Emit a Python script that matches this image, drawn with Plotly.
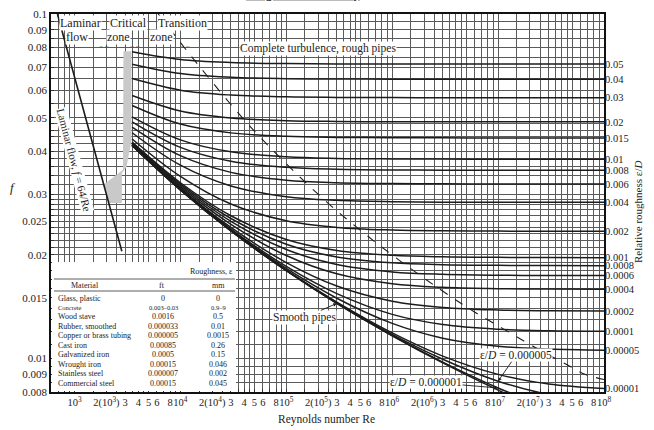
import numpy as np
import plotly.graph_objects as go

# ---------------- data ----------------
re_pts = [3500, 1e4, 3e4, 1e5, 3e5, 1e6, 3e6, 1e7, 3e7, 1e8]

f_eD_0_05 = [0.07772, 0.0738, 0.07231, 0.07178, 0.07163, 0.0716, 0.07156, 0.07155, 0.07155, 0.07155]
f_eD_0_04 = [0.07151, 0.06719, 0.06553, 0.06493, 0.06476, 0.0647, 0.06468, 0.06467, 0.06467, 0.06467]
f_eD_0_03 = [0.06496, 0.0601, 0.05818, 0.05748, 0.05728, 0.0572, 0.05718, 0.05717, 0.05717, 0.05717]
f_eD_0_02 = [0.05799, 0.05228, 0.04991, 0.04902, 0.04877, 0.04868, 0.04865, 0.04864, 0.04864, 0.04864]
f_eD_0_015 = [0.05426, 0.04793, 0.04519, 0.04415, 0.04385, 0.04374, 0.04371, 0.04369, 0.04369, 0.04369]
f_eD_0_01 = [0.05031, 0.04313, 0.03982, 0.0385, 0.0381, 0.03797, 0.03793, 0.03791, 0.0379, 0.0379]
f_eD_0_008 = [0.04867, 0.04103, 0.03739, 0.03589, 0.03543, 0.03527, 0.03522, 0.03521, 0.0352, 0.0352]
f_eD_0_006 = [0.04698, 0.0388, 0.03471, 0.03295, 0.0324, 0.0322, 0.03214, 0.03212, 0.03211, 0.03211]
f_eD_0_004 = [0.04522, 0.03641, 0.03168, 0.0295, 0.02879, 0.02853, 0.02845, 0.02843, 0.02842, 0.02842]
f_eD_0_002 = [0.04339, 0.0338, 0.02809, 0.02511, 0.02403, 0.02361, 0.02348, 0.02344, 0.02343, 0.02342]
f_eD_0_001 = [0.04247, 0.03238, 0.02597, 0.02217, 0.0206, 0.01994, 0.01974, 0.01967, 0.01965, 0.01963]
f_eD_0_0008 = [0.0423, 0.03208, 0.0255, 0.02148, 0.01973, 0.01897, 0.01873, 0.01865, 0.01862, 0.01861]
f_eD_0_0006 = [0.04206, 0.03179, 0.02503, 0.02073, 0.01875, 0.01785, 0.01756, 0.01745, 0.01742, 0.01741]
f_eD_0_0004 = [0.0419, 0.03149, 0.02453, 0.01991, 0.01762, 0.01649, 0.0161, 0.01596, 0.01591, 0.0159]
f_eD_0_0002 = [0.04172, 0.0312, 0.02402, 0.019, 0.01625, 0.01468, 0.01408, 0.01384, 0.01377, 0.01374]
f_eD_0_0001 = [0.04163, 0.03104, 0.02377, 0.01851, 0.01543, 0.01344, 0.01256, 0.01217, 0.01204, 0.012]
f_eD_0_00005 = [0.04158, 0.03095, 0.02363, 0.01826, 0.01497, 0.01265, 0.01146, 0.01086, 0.01066, 0.01058]
f_eD_0_00001 = [0.04155, 0.0309, 0.02352, 0.01805, 0.01458, 0.01187, 0.01017, 0.0090, 0.00844, 0.00819]
f_eD_0_000005 = [0.04155, 0.03089, 0.0235, 0.01802, 0.01452, 0.01176, 0.00996, 0.0086, 0.00787, 0.0075]
f_eD_0_000001 = [0.04155, 0.03089, 0.02349, 0.018, 0.01447, 0.01167, 0.00977, 0.00822, 0.00719]
f_smooth = [0.04154, 0.03088, 0.02348, 0.01799, 0.01446, 0.01165, 0.00972, 0.0081, 0.00695]

eD_labels = ["0.05", "0.04", "0.03", "0.02", "0.015", "0.01", "0.008", "0.006", "0.004",
             "0.002", "0.001", "0.0008", "0.0006", "0.0004", "0.0002", "0.0001", "0.00005", "0.00001"]
rough_curves = [f_eD_0_05, f_eD_0_04, f_eD_0_03, f_eD_0_02, f_eD_0_015, f_eD_0_01, f_eD_0_008,
                f_eD_0_006, f_eD_0_004, f_eD_0_002, f_eD_0_001, f_eD_0_0008, f_eD_0_0006,
                f_eD_0_0004, f_eD_0_0002, f_eD_0_0001, f_eD_0_00005, f_eD_0_00001]

re_laminar = [690, 2800]
f_laminar = [0.1, 0.0205]

re_critical = [2900, 3450, 3450, 3100, 2800, 2800, 2100, 1890, 2870, 2900]
f_critical = [0.078, 0.078, 0.043, 0.036, 0.0345, 0.0283, 0.0283, 0.032, 0.0353, 0.078]

re_dashed = [6175, 14500, 41700, 90400, 243000, 516000, 1087000, 2820000, 5890000,
             12260000, 25350000, 43500000, 66000000, 100000000]
f_dashed = [0.1, 0.0716, 0.0486, 0.0379, 0.0284, 0.0234, 0.0196, 0.0159, 0.0137,
            0.0120, 0.01054, 0.00965, 0.00901, 0.0087]

materials = ["Glass, plastic", "Concrete", "Wood stave", "Rubber, smoothed",
             "Copper or brass tubing", "Cast iron", "Galvanized iron", "Wrought iron",
             "Stainless steel", "Commercial steel"]
rough_ft = ["0", "0.003\u20130.03", "0.0016", "0.000033", "0.000005", "0.00085",
            "0.0005", "0.00015", "0.000007", "0.00015"]
rough_mm = ["0", "0.9\u20139", "0.5", "0.01", "0.0015", "0.26", "0.15", "0.046", "0.002", "0.045"]

y_labels = {0.008: "0.008", 0.009: "0.009", 0.01: "0.01", 0.015: "0.015", 0.02: "0.02",
            0.025: "0.025", 0.03: "0.03", 0.04: "0.04", 0.05: "0.05", 0.06: "0.06",
            0.07: "0.07", 0.08: "0.08", 0.09: "0.09", 0.1: "0.1"}

# ---------------- layout helpers ----------------
W, H = 654, 430
L, R, T, B = 51, 50, 14, 38
PW, PH = W - L - R, H - T - B
FONT = "Liberation Serif, Times New Roman, serif"
INK = "#1c1c1c"


def pxx(x):
    return (x - L) / PW


def pxy(y):
    return (H - B - y) / PH


# grid positions
x_mult = [1, 1.5, 2, 2.5, 3, 3.5, 4, 4.5, 5, 6, 7, 8, 9]
x_grid, x_text = [], []
for d in range(2, 8):
    for m in x_mult:
        v = m * 10 ** d
        if v < 600:
            continue
        x_grid.append(v)
        if d < 3:
            x_text.append("")
        elif m == 1:
            x_text.append("10<sup>%d</sup>" % d)
        elif m == 2:
            x_text.append("2(10<sup>%d</sup>)" % d)
        elif m in (3, 4, 5, 6, 8):
            x_text.append(str(m))
        else:
            x_text.append("")
x_grid.append(1e8)
x_text.append("10<sup>8</sup>")

y_grid = [0.008, 0.0085, 0.009, 0.0095]
y_grid += [round(0.01 + 0.001 * i, 4) for i in range(21)]
y_grid += [round(0.032 + 0.002 * i, 4) for i in range(9)]
y_grid += [round(0.05 + 0.005 * i, 4) for i in range(11)]
y_text = [y_labels.get(round(v, 4), "") for v in y_grid]

fig = go.Figure()

# critical zone
fig.add_trace(go.Scatter(x=re_critical, y=f_critical, fill="toself", fillcolor="#c9c9c9",
                         line=dict(width=0), mode="lines", hoverinfo="skip"))

# roughness curves
for fv in rough_curves:
    fig.add_trace(go.Scatter(x=re_pts, y=fv, mode="lines",
                             line=dict(color=INK, width=1.5, shape="spline", smoothing=1.0)))
fig.add_trace(go.Scatter(x=re_pts, y=f_eD_0_000005, mode="lines",
                         line=dict(color=INK, width=1.5, shape="spline", smoothing=1.0)))
fig.add_trace(go.Scatter(x=re_pts[:9], y=f_eD_0_000001, mode="lines",
                         line=dict(color=INK, width=1.5, shape="spline", smoothing=1.0)))
fig.add_trace(go.Scatter(x=re_pts[:9], y=f_smooth, mode="lines",
                         line=dict(color=INK, width=1.5, shape="spline", smoothing=1.0)))

# laminar line
fig.add_trace(go.Scatter(x=re_laminar, y=f_laminar, mode="lines", line=dict(color=INK, width=1.6)))

# complete-turbulence boundary
fig.add_trace(go.Scatter(x=re_dashed, y=f_dashed, mode="lines",
                         line=dict(color=INK, width=1.1, dash="dash", shape="spline")))

# invisible trace to anchor right axis
fig.add_trace(go.Scatter(x=[1e5], y=[0.02], yaxis="y2", mode="markers",
                         marker=dict(opacity=0), hoverinfo="skip"))

right_vals = [c[-1] for c in rough_curves]

axis_common = dict(type="log", showgrid=True, gridcolor="#5a5a5a", gridwidth=0.7,
                   ticks="inside", ticklen=3, tickcolor="#333", showline=True, mirror=True,
                   linecolor="#111", linewidth=1.5, zeroline=False, automargin=False)

fig.update_layout(
    width=W, height=H,
    margin=dict(l=L, r=R, t=T, b=B),
    paper_bgcolor="white", plot_bgcolor="white",
    showlegend=False,
    font=dict(family=FONT, size=11, color=INK),
    xaxis=dict(range=[np.log10(600), 8], tickmode="array", tickvals=x_grid, ticktext=x_text,
               tickangle=0, tickfont=dict(family=FONT, size=10.5, color=INK), **axis_common),
    yaxis=dict(range=[np.log10(0.008), -1], tickmode="array", tickvals=y_grid, ticktext=y_text,
               tickfont=dict(family=FONT, size=11, color=INK), **axis_common),
    yaxis2=dict(type="log", overlaying="y", side="right", range=[np.log10(0.008), -1],
                tickmode="array", tickvals=right_vals, ticktext=eD_labels, showgrid=False,
                ticks="", showline=False, zeroline=False, automargin=False,
                tickfont=dict(family=FONT, size=10.5, color=INK)),
)

# table background covering grid
fig.add_shape(type="rect", xref="paper", yref="paper", x0=1.0 / PW, x1=pxx(236), y0=1.0 / PH,
              y1=pxy(262), fillcolor="white", line=dict(width=0), layer="above")
for yy in (279, 291):
    fig.add_shape(type="line", xref="paper", yref="paper", x0=pxx(54), x1=pxx(235),
                  y0=pxy(yy), y1=pxy(yy), line=dict(color="#333", width=0.8), layer="above")

ann = []


def txt(x, y, s, size=11, bg=None, xanchor="center", angle=0, yanchor="middle"):
    d = dict(x=pxx(x), y=pxy(y), xref="paper", yref="paper", text=s, showarrow=False,
             font=dict(family=FONT, size=size, color=INK), xanchor=xanchor, yanchor=yanchor,
             textangle=angle, borderpad=0)
    if bg:
        d["bgcolor"] = bg
    ann.append(d)


txt(303, 2, "<b><u>Diagrama de Moody</u></b>", size=13, yanchor="bottom")
txt(80, 23, "Laminar", 12, "white")
txt(128, 23, "Critical", 12, "white")
txt(182, 23, "Transition", 12, "white")
txt(77, 37, "flow", 12, "white")
txt(118, 37, "zone", 12, "white")
txt(161, 37, "zone", 12, "white")
for xx in (104, 135, 185):
    txt(xx, 46, "\u2192\u2190", 6)
txt(318, 48, "Complete turbulence, rough pipes", 11.5, "white")
txt(74, 160, "Laminar flow, <i>f</i> = 64/Re", 11, "white", angle=75)
txt(13, 187, "<i>f</i>", 13)
txt(326, 420, "Reynolds number Re", 11.5)
ann.append(dict(x=pxx(646), y=pxy(212), xref="paper", yref="paper",
                text="Relative roughness \u03b5/<i>D</i>", showarrow=False, textangle=-90,
                font=dict(family=FONT, size=11, color=INK)))

# table texts
txt(211, 271, "Roughness, \u03b5", 8)
txt(85, 285, "Material", 8)
txt(162, 285, "ft", 8)
txt(218, 285, "mm", 8)
for i, (m, a, b) in enumerate(zip(materials, rough_ft, rough_mm)):
    yy = 298 + 9.45 * i
    sz = 6.5 if m == "Concrete" else 8
    txt(57, yy, m, sz, xanchor="left")
    txt(163, yy, a, sz)
    txt(218, yy, b, sz)


def arrow(re_v, f_v, s, ax, ay):
    ann.append(dict(x=np.log10(re_v), y=np.log10(f_v), xref="x", yref="y", text=s,
                    showarrow=True, arrowhead=2, arrowsize=0.8, arrowwidth=0.9,
                    arrowcolor=INK, ax=ax, ay=ay, bgcolor="white", borderpad=0,
                    font=dict(family=FONT, size=11.5, color=INK)))


arrow(re_pts[4], f_smooth[4], "Smooth pipes", -32, 14)
arrow(re_pts[7], f_eD_0_000005[7], "\u03b5/<i>D</i> = 0.000005", 18, -26)
arrow(re_pts[7], f_eD_0_000001[7], "\u03b5/<i>D</i> = 0.000001", -72, -6)

fig.update_layout(annotations=ann)
fig.write_html("out.html")
